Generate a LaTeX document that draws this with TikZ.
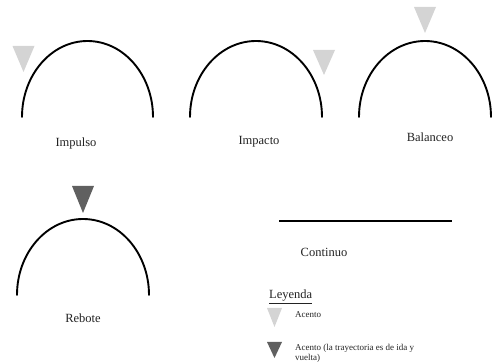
\documentclass[tikz,border=0pt]{standalone}
\usepackage{fontspec}
\setmainfont{Liberation Serif}
\usepackage{tikz}
\usetikzlibrary{positioning}
\usepackage{xcolor}
\definecolor{acentoclaro}{RGB}{212,212,212}
\definecolor{acentooscuro}{RGB}{96,96,96}
\definecolor{texto}{RGB}{35,35,35}

\begin{document}
\begin{tikzpicture}[x=1pt, y=1pt,
  trayecto/.style={line width=1.9pt, line cap=round},
  etiqueta/.style={text=texto, font=\fontsize{12.5}{14}\selectfont},
  nota/.style={text=texto, font=\fontsize{9}{9.5}\selectfont, align=left}]
  \useasboundingbox (0,0) rectangle (493,364);
  % Impulso
  \draw[trayecto] (22,247) arc[start angle=180, end angle=0, x radius=65.5, y radius=76];
  \fill[acentoclaro] (12.5,318) -- (34.5,318) -- (23.5,292) -- cycle;
  \node[etiqueta] (impulso) at (76,221) {Impulso};
  % Impacto
  \draw[trayecto] (190,247) arc[start angle=180, end angle=0, x radius=66, y radius=76];
  \fill[acentoclaro] (313,314) -- (335,314) -- (324,289) -- cycle;
  \node[etiqueta] (impacto) at (259,222) {Impacto};
  % Balanceo
  \draw[trayecto] (359,247) arc[start angle=180, end angle=0, x radius=66, y radius=76];
  \fill[acentoclaro] (414,357) -- (436,357) -- (425,331) -- cycle;
  \node[etiqueta] (balanceo) at (430,227) {Balanceo};
  % Rebote
  \draw[trayecto] (17,69) arc[start angle=180, end angle=0, x radius=66, y radius=76];
  \fill[acentooscuro] (72,178) -- (94,178) -- (83,151) -- cycle;
  \node[etiqueta] (rebote) at (83,46) {Rebote};
  % Continuo
  \draw[line width=1.9pt] (279,143) -- (452,143);
  \node[etiqueta] (continuo) at (324,112) {Continuo};
  % Leyenda
  \node[etiqueta, anchor=west, inner sep=0pt] (leyenda) at (269,67) {\underline{Leyenda}};
  \fill[acentoclaro] (267,56) -- (282,56) -- (274.5,37) -- cycle;
  \node[nota, anchor=west, inner sep=0pt] (acento) at (295,49) {Acento};
  \fill[acentooscuro] (267,22) -- (282,22) -- (274.5,6) -- cycle;
  \node[nota, anchor=south west, inner sep=0pt] (idavuelta) at (295,1.5) {Acento (la trayectoria es de ida y\\vuelta)};
\end{tikzpicture}
\end{document}
